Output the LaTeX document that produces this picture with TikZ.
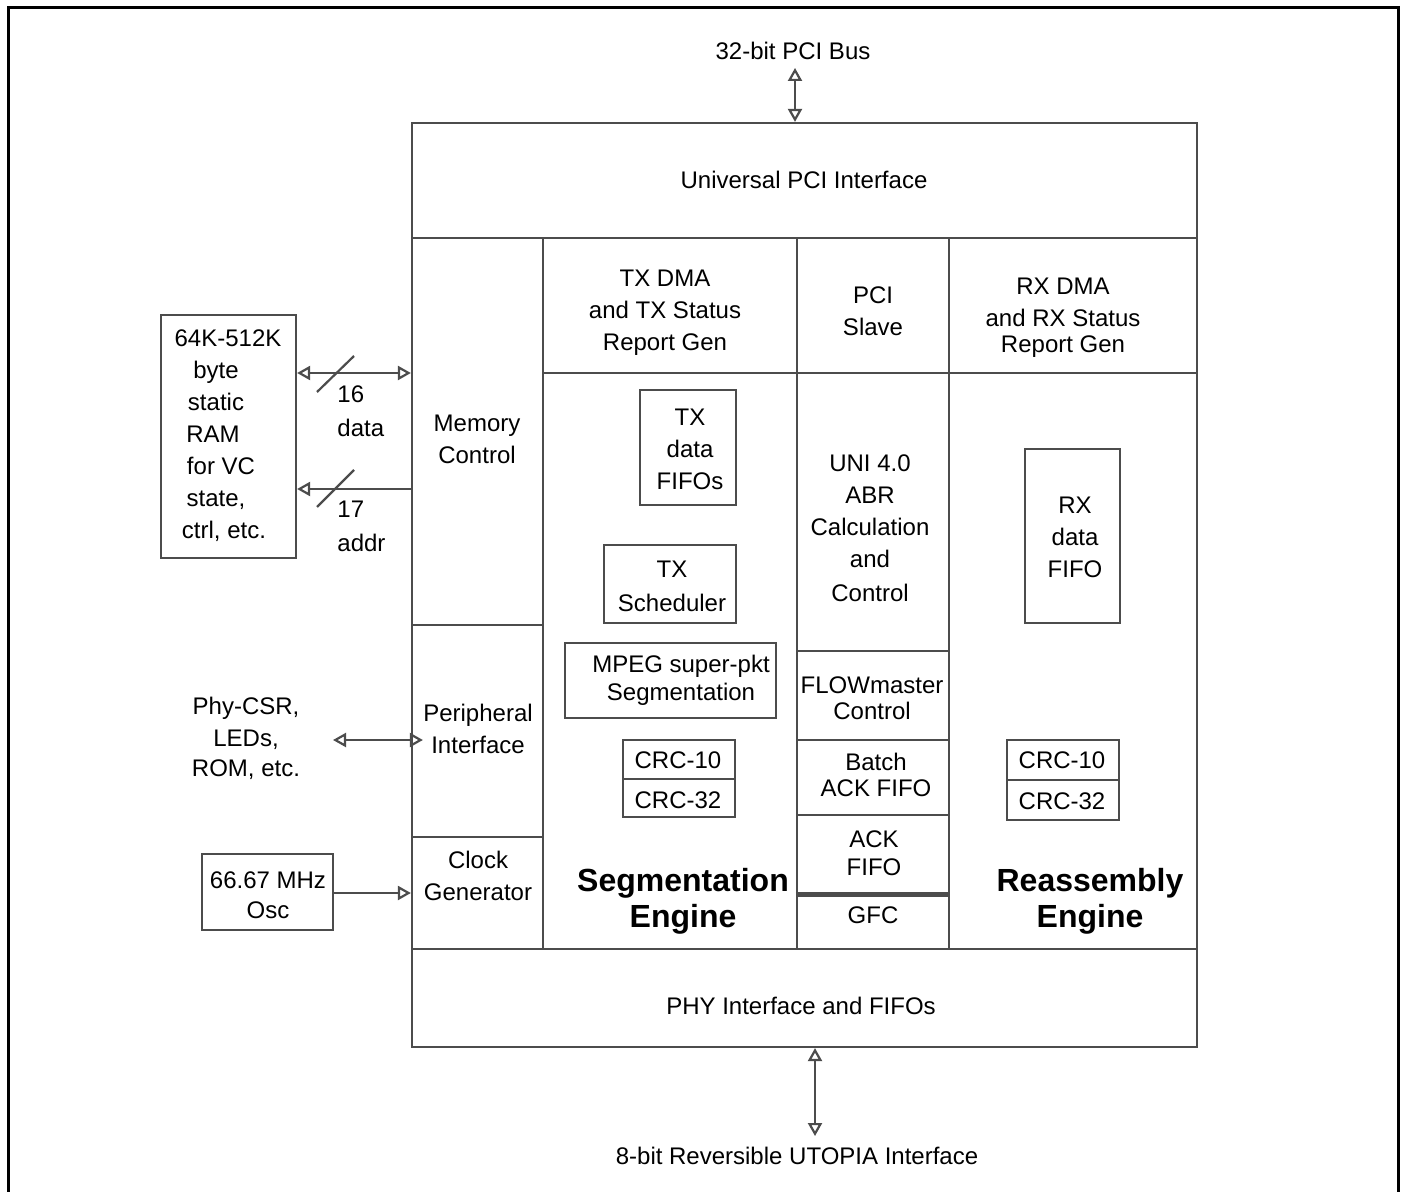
\documentclass[tikz,border=0pt]{standalone}
\usepackage{fontspec}
\setmainfont{Liberation Sans}
\usetikzlibrary{fit,arrows.meta}
\newcommand{\rpad}[1]{\hspace*{#1}\mbox{}}
\begin{document}
\begin{tikzpicture}[x=0.5pt,y=-0.5pt,
  box/.style={draw=black!70, line width=1.1pt, inner sep=0pt},
  txt/.style={inner sep=0pt, align=center, font=\fontsize{12}{16}\selectfont},
  big/.style={inner sep=0pt, align=center, font=\fontsize{16}{18}\selectfont\bfseries},
  conn/.style={draw=black!70, line width=1.1pt},
  dbl/.style={conn, {Triangle[open,length=6.5pt,width=7pt]}-{Triangle[open,length=6.5pt,width=7pt]}},
  sgl/.style={conn, -{Triangle[open,length=6.5pt,width=7pt]}}]
\useasboundingbox (0,0) rectangle (1406,1192);
\fill[white] (0,0) rectangle (1406,1192);
% outer frame
\draw[line width=1.5pt] (8,1195) -- (8,8) -- (1398,8) -- (1398,1195);

% main chip blocks
\node[box, fit={(412,123) (1197,238)}] (pci) {};
\node[box, fit={(543,238) (797,373)}] (txdma) {};
\node[box, fit={(797,238) (949,373)}] (pcislave) {};
\node[box, fit={(949,238) (1197,373)}] (rxdma) {};
\node[box, fit={(412,238) (543,625)}] (memctl) {};
\node[box, fit={(412,625) (543,837)}] (periph) {};
\node[box, fit={(412,837) (543,949)}] (clkgen) {};
\node[box, fit={(543,373) (797,949)}] (seg) {};
\node[box, fit={(797,373) (949,651)}] (abr) {};
\node[box, fit={(797,651) (949,740)}] (flow) {};
\node[box, fit={(797,740) (949,815)}] (batch) {};
\node[box, fit={(797,815) (949,893)}] (ack) {};
\node[box, fit={(797,893) (949,949)}] (gfc) {};
\node[box, fit={(949,373) (1197,949)}] (reas) {};
\node[box, fit={(412,949) (1197,1047)}] (phy) {};
\draw[draw=black!70, line width=2.6pt] (ack.south west) -- (ack.south east);

% texts of blocks
\node[txt] (pcit) at (804,180) {Universal PCI Interface};
\node[txt] (txdmat) at (665,313) {TX DMA\\and TX Status\\Report Gen};
\node[txt] (pcislavet) at (873,311) {PCI\\Slave};
\node[txt] (rxdmat) at (1063,318) {RX DMA\\and RX Status\\[-3pt]Report Gen};
\node[txt] (memctlt) at (477,439) {Memory\\Control};
\node[txt] (periph) at (478,729) {Peripheral\\Interface};
\node[txt] (clkgent) at (478,876) {Clock\\Generator};
\node[txt] (abrt) at (870,528) {UNI 4.0\\ABR\\Calculation\\and\\[1pt]Control};
\node[txt] (flowt) at (872,698) {FLOWmaster\\[-3pt]Control};
\node[txt] (batcht) at (876,775) {Batch\\[-3pt]ACK FIFO};
\node[txt] (ackt) at (874,853) {ACK\\[-2pt]FIFO};
\node[txt] (gfct) at (873,915) {GFC};
\node[txt] (phyt) at (801,1006) {PHY Interface and FIFOs};
\node[big] (segt) at (683,901) {Segmentation\\Engine};
\node[big] (reast) at (1090,901) {Reassembly\\Engine};

% inner boxes of segmentation engine
\node[box, fit={(640,390) (736,505)}] (txfifo) {};
\node[txt] (txfifot) at (690,449) {TX\\data\\FIFOs};
\node[box, fit={(604,545) (736,623)}] (txsched) {};
\node[txt] (txschedt) at (672,586) {TX\\[1pt]Scheduler};
\node[box, fit={(565,643) (776,718)}] (mpeg) {};
\node[txt] (mpegt) at (681,680) {MPEG super-pkt\\[-2pt]Segmentation};
\node[box, fit={(623,740) (735,779)}] (crc10a) {};
\node[txt] (crc10at) at (678,760) {CRC-10};
\node[box, fit={(623,779) (735,817)}] (crc32a) {};
\node[txt] (crc32at) at (678,800) {CRC-32};

% inner boxes of reassembly engine
\node[box, fit={(1025,449) (1120,623)}] (rxfifo) {};
\node[txt] (rxfifot) at (1075,537) {RX\\data\\FIFO};
\node[box, fit={(1007,740) (1119,780)}] (crc10b) {};
\node[txt] (crc10bt) at (1062,760) {CRC-10};
\node[box, fit={(1007,780) (1119,820)}] (crc32b) {};
\node[txt] (crc32bt) at (1062,801) {CRC-32};

% external parts
\node[box, fit={(161,315) (296,558)}] (sram) {};
\node[txt] (sramt) at (228,436) {64K-512K\\byte\rpad{12pt}\\static\rpad{12pt}\\RAM\rpad{15pt}\\for VC\rpad{7pt}\\state,\rpad{12pt}\\ctrl, etc.\rpad{4pt}};
\node[box, fit={(202,854) (333,930)}] (osc) {};
\node[txt] (osct) at (268,895) {66.67 MHz\\[-1pt]Osc};
\node[txt] (phycsr) at (246,738) {Phy-CSR,\\LEDs,\\[-1pt]ROM, etc.};
\node[txt] (pcibus) at (793,51) {32-bit PCI Bus};
\node[txt] (utopia) at (797,1156) {8-bit Reversible UTOPIA Interface};

% connectors
\coordinate (datay) at (0,373);
\coordinate (addry) at (0,489);
\coordinate (phyy) at (0,740);
\coordinate (clky) at (0,893);
\coordinate (pcix) at (795,0);
\coordinate (utox) at (815,0);
\coordinate (pcitop) at (795,68);
\coordinate (utobot) at (815,1136);
\coordinate (phyend) at (333,740);

\draw[dbl] (sram.east |- datay) -- (memctl.west |- datay);
\draw[sgl] (memctl.west |- addry) -- (sram.east |- addry);
\draw[dbl] (phyend) -- (periph.west |- phyy);
\draw[sgl] (osc.east |- clky) -- (clkgen.west |- clky);
\draw[dbl] (pcitop) -- (pci.north -| pcix);
\draw[dbl] (phy.south -| utox) -- (utobot);

% bus width marks
\draw[conn] (317,392) -- (354,356);
\draw[conn] (317,507) -- (354,470);
\node[txt, anchor=west, align=left] (datal) at (337,411) {16\\[1pt]data};
\node[txt, anchor=west, align=left] (addrl) at (337,526) {17\\[1pt]addr};
\end{tikzpicture}
\end{document}
